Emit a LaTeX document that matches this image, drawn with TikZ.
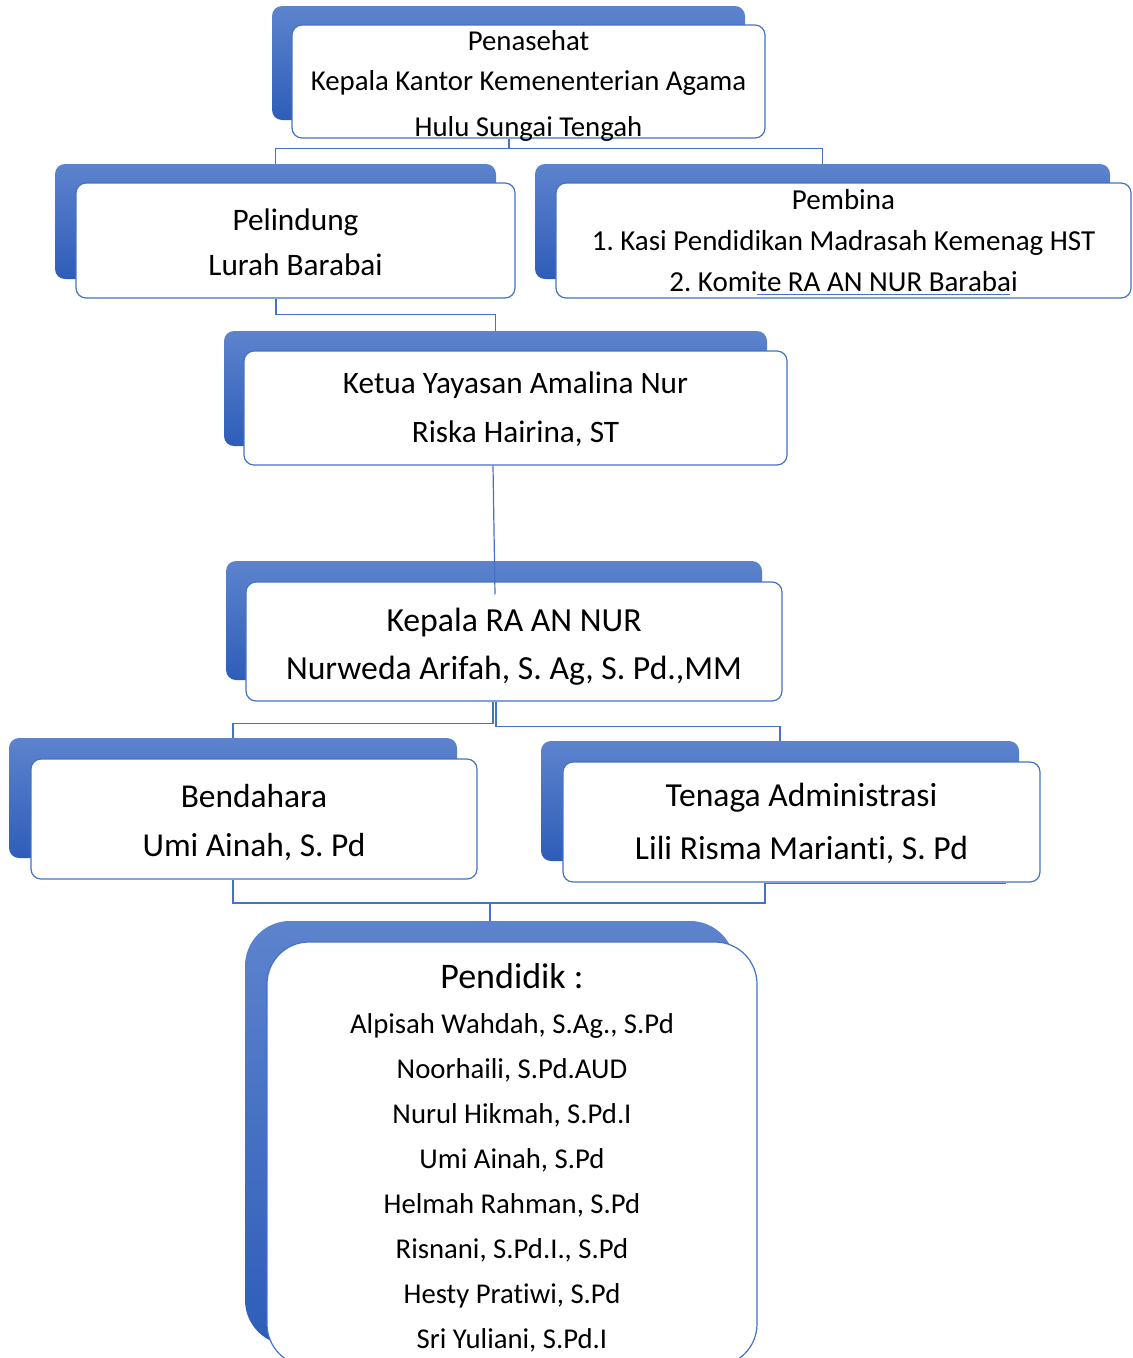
\documentclass[tikz,border=0pt]{standalone}
\usepackage{fontspec}
\setmainfont{Carlito}[Ligatures={NoCommon}]
\frenchspacing
\definecolor{linkblue}{RGB}{68,114,196}
\definecolor{backtop}{RGB}{93,131,205}
\definecolor{backbot}{RGB}{46,93,184}
\begin{document}
\begin{tikzpicture}[x=1pt,y=-1pt,
  backbox/.style={shade, top color=backtop, bottom color=backbot, draw=none,
    rounded corners=10pt, inner sep=0pt},
  frontbox/.style={fill=white, draw=linkblue, line width=1.2pt,
    rounded corners=10pt, inner sep=0pt},
  boxtext/.style={inner sep=0pt, align=center, text=black},
  conn/.style={draw=linkblue, line width=1.2pt}]
\useasboundingbox (0,0) rectangle (1133,1358);
\clip (0,0) rectangle (1133,1358);

% back shapes
\node[backbox, minimum width=473pt, minimum height=114pt] (penB) at (508.5,63) {};
\node[backbox, minimum width=441pt, minimum height=115pt] (pelB) at (275.5,221.5) {};
\node[backbox, minimum width=575pt, minimum height=115pt] (pemB) at (822.5,221.5) {};
\node[backbox, minimum width=543pt, minimum height=115pt] (ketB) at (495.5,388.5) {};
\node[backbox, minimum width=536pt, minimum height=119pt] (kepB) at (494,620.5) {};
\node[backbox, minimum width=448pt, minimum height=120pt] (benB) at (233,798) {};
\node[backbox, minimum width=478pt, minimum height=120pt] (tenB) at (780,801) {};
\node[backbox, rounded corners=45pt, minimum width=490pt, minimum height=424pt] (pendB) at (490,1133) {};

% front boxes
\node[frontbox, minimum width=473pt, minimum height=113pt] (pen) at (528.5,81.5) {};
\node[frontbox, minimum width=439pt, minimum height=115pt] (pel) at (295.5,240.5) {};
\node[frontbox, minimum width=575pt, minimum height=115pt] (pem) at (843.5,240.5) {};
\node[frontbox, minimum width=543pt, minimum height=114pt] (ket) at (515.5,408) {};
\node[frontbox, minimum width=536pt, minimum height=119pt] (kep) at (514,641.5) {};
\node[frontbox, minimum width=446pt, minimum height=120pt] (ben) at (254,819) {};
\node[frontbox, minimum width=477pt, minimum height=120pt] (ten) at (801.5,822) {};
\node[frontbox, rounded corners=42pt, minimum width=490pt, minimum height=424pt] (pend) at (512,1154) {};

% texts
\node[boxtext, font=\fontsize{28.8}{40}\selectfont] (penT) at ([yshift=-4pt]pen.center)
  {Penasehat\\Kepala Kantor Kemenenterian Agama\\[6pt]Hulu Sungai Tengah};
\node[boxtext, font=\fontsize{31.3}{45}\selectfont] (pelT) at ([yshift=-2pt]pel.center)
  {Pelindung\\Lurah Barabai};
\node[boxtext, font=\fontsize{29}{41}\selectfont] (pemT) at (pem.center)
  {Pembina\\1. Kasi Pendidikan Madrasah Kemenag HST\\2. Komite RA AN NUR Barabai};
\node[boxtext, font=\fontsize{31.25}{49}\selectfont] (ketT) at ([yshift=-1pt]ket.center)
  {Ketua Yayasan Amalina Nur\\Riska Hairina, ST};
\node[boxtext, font=\fontsize{33.7}{48}\selectfont] (kepT) at ([yshift=-5pt]kep.center)
  {Kepala RA AN NUR\\Nurweda Arifah, S. Ag, S. Pd.,MM};
\node[boxtext, font=\fontsize{33.4}{49}\selectfont] (benT) at ([yshift=-4pt]ben.center)
  {Bendahara\\Umi Ainah, S. Pd};
\node[boxtext, font=\fontsize{33.6}{53}\selectfont] (tenT) at ([yshift=-1.5pt]ten.center)
  {Tenaga Administrasi\\Lili Risma Marianti, S. Pd};
\node[boxtext, anchor=north, font=\fontsize{28.7}{45}\selectfont] (pendT) at (512,963)
  {{\fontsize{36}{45}\selectfont Pendidik :}\\
   Alpisah Wahdah, S.Ag., S.Pd\\
   Noorhaili, S.Pd.AUD\\
   Nurul Hikmah, S.Pd.I\\
   Umi Ainah, S.Pd\\
   Helmah Rahman, S.Pd\\
   Risnani, S.Pd.I., S.Pd\\
   Hesty Pratiwi, S.Pd\\
   Sri Yuliani, S.Pd.I};

% stray lines seen in the reference
\coordinate (ulA) at (757,294);
\coordinate (ulB) at (1010,294);
\draw[conn, line width=1pt] (ulA) -- (ulB);
\coordinate (tlA) at (766,883.5);
\coordinate (tlB) at (1006,883.5);
\draw[conn, line width=1pt] (tlA) -- (tlB);

% connectors
\draw[conn] ([xshift=-19.5pt]pen.south) -- ++(0,10) coordinate (j1);
\draw[conn] (pelB.north) |- (j1) -| (pemB.north);
\draw[conn] ([xshift=-19.5pt]pel.south) -- ++(0,16) -| (ketB.north);
\draw[conn] ([xshift=-22.5pt]ket.south) -- ([xshift=-19pt,yshift=-13pt]kep.north);
\draw[conn] ([xshift=-21pt]kep.south) -- ++(0,22) -| (benB.north);
\draw[conn] ([xshift=-18pt]kep.south) -- ++(0,25) -| (tenB.north);
\coordinate (j5) at (490,903);
\draw[conn] ([xshift=-21pt]ben.south) |- (j5) -- (pendB.north);
\draw[conn] ([xshift=-36.5pt]ten.south) |- (j5);
\end{tikzpicture}
\end{document}
